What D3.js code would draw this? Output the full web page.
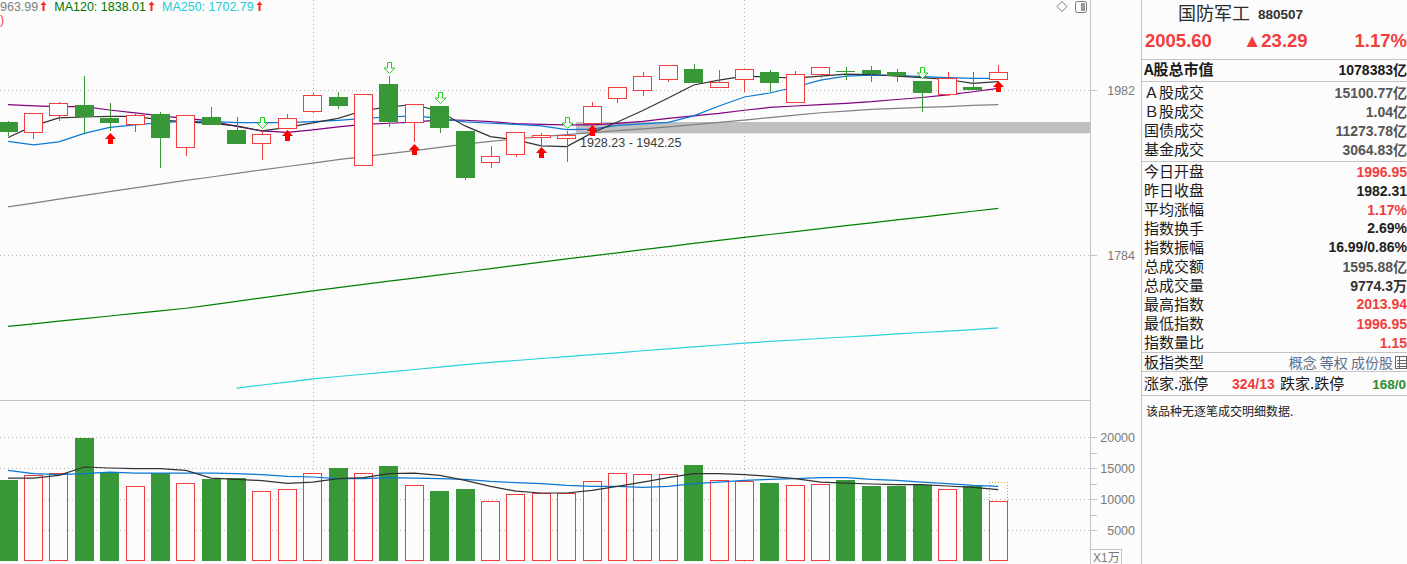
<!DOCTYPE html>
<html><head><meta charset="utf-8">
<script src="https://cdn.jsdelivr.net/npm/d3@7"></script>
<style>
html,body{margin:0;padding:0;background:#fcfcfc;overflow:hidden;}
svg{display:block;font-family:Arial,"Liberation Sans","Noto Sans CJK SC",sans-serif;}
</style></head><body><svg id="c" width="1407" height="564"></svg>
<script>
// ---------- data ----------
const days = [1,2,3,4,5,6,7,8,9,10,11,12,13,14,15,16,17,18,19,20,21,22,23,24,25,26,27,28,29,30,31,32,33,34,35,36,37,38,39,40];
const openP  = [1942.7,1929.6,1950.7,1963.5,1947.7,1939.5,1952.3,1911.3,1948.5,1932.5,1916.1,1934.5,1956.4,1973.5,1889.5,1990.0,1942.7,1962.2,1931.2,1893.8,1903.5,1923.5,1922.6,1941.5,1971.9,1982.4,1996.3,2009.1,1986.6,1995.9,2005.3,1966.9,2002.7,2006.5,2007.8,2005.3,1993.8,1976.9,1986.2,1996.95];
const highP  = [1943.6,1953.1,1967.6,2000.5,1966.4,1953.1,1955.1,1950.7,1961.4,1948.9,1931.0,1952.3,1979.0,1980.2,1976.9,2000.1,1964.4,1962.2,1931.2,1912.8,1930.4,1929.1,1931.2,1967.6,1985.8,2005.6,2013.9,2015.5,2007.8,2008.7,2007.8,2006.5,2012.1,2012.1,2013.0,2009.1,1993.8,2004.8,2004.8,2013.94];
const lowP   = [1925.1,1921.4,1943.9,1929.1,1931.2,1930.4,1885.9,1901.1,1938.5,1915.7,1895.9,1934.5,1953.1,1958.5,1889.5,1936.5,1917.7,1929.1,1871.9,1885.9,1899.9,1914.1,1893.8,1941.5,1965.6,1975.2,1992.9,1991.6,1986.6,1980.2,1980.2,1966.9,1997.2,1995.0,1992.1,1992.9,1955.1,1974.4,1982.0,1996.95];
const closeP = [1930.4,1953.1,1965.6,1948.2,1941.5,1950.7,1923.0,1950.7,1939.0,1915.7,1927.5,1946.9,1975.7,1962.6,1976.9,1942.7,1964.4,1935.3,1873.9,1900.7,1930.4,1926.3,1926.0,1962.2,1985.8,1999.8,2013.9,1991.6,1992.1,2008.7,1991.6,2002.3,2012.1,2004.8,2002.3,1999.8,1979.0,1997.2,1982.31,2005.60];
const ma5   = [1923.1,1937.4,1947.3,1948.5,1949.2,1949.2,1944.8,1942.3,1940.5,1937.4,1931.2,1935.5,1941.1,1946.7,1956.6,1961.0,1964.1,1955.4,1937.4,1924.2,1920.2,1912.8,1912.0,1928.8,1942.3,1956.6,1972.3,1988.7,1995.0,2000.1,1998.9,1997.6,2000.1,2002.7,2002.1,2000.1,1998.0,1995.7,1990.9,1992.9];
const ma10  = [1918.3,1914.1,1917.7,1928.2,1935.5,1938.6,1941.5,1943.0,1943.0,1941.5,1941.5,1941.5,1942.7,1944.2,1946.7,1948.5,1949.8,1946.7,1942.3,1940.7,1939.2,1937.4,1932.8,1933.5,1938.0,1939.9,1941.7,1949.8,1962.2,1973.5,1978.6,1986.2,1995.0,2000.1,2001.4,2001.0,1999.5,1998.2,1997.2,1997.2];
const ma20  = [1963.9,1962.4,1961.4,1961.4,1957.2,1953.5,1949.8,1946.7,1943.6,1936.8,1931.2,1929.4,1932.5,1936.2,1939.2,1940.7,1942.1,1944.8,1944.4,1942.6,1940.3,1939.2,1938.6,1938.6,1940.5,1943.0,1946.7,1949.8,1952.9,1956.9,1960.4,1962.2,1963.9,1965.6,1967.6,1970.4,1972.9,1976.1,1980.2,1984.5];
const ma60  = [1839.7,1844.2,1848.8,1853.2,1857.8,1862.2,1866.6,1871.1,1875.2,1879.5,1883.7,1887.8,1891.8,1896.1,1899.8,1903.5,1907.1,1911.1,1915.0,1918.3,1921.4,1924.3,1926.7,1929.1,1931.5,1933.8,1936.3,1939.0,1941.8,1944.6,1947.8,1950.9,1953.8,1955.8,1957.9,1959.3,1960.4,1961.4,1963.0,1963.99];
const ma120 = [1704.4,1707.2,1710.2,1712.9,1715.8,1718.6,1721.4,1724.3,1728.0,1732.0,1735.8,1739.7,1743.6,1747.2,1750.8,1754.4,1757.8,1761.5,1765.0,1768.6,1772.2,1775.9,1779.5,1783.1,1786.5,1790.1,1793.6,1797.2,1800.7,1804.2,1807.5,1810.9,1814.3,1817.7,1821.0,1824.4,1827.8,1831.2,1834.6,1838.01];
const ma250 = [null,null,null,null,null,null,null,null,null,1638.6,1641.8,1644.9,1648.2,1650.7,1653.1,1655.6,1658.1,1660.6,1663.2,1665.6,1667.7,1669.8,1671.9,1673.9,1675.9,1678.1,1680.1,1682.3,1684.3,1686.3,1688.1,1689.7,1691.3,1692.9,1694.5,1696.3,1697.8,1699.4,1701.0,1702.79];
const volume = [13060,13980,14250,19840,14400,12200,14300,12690,13280,13390,11400,11720,14300,15000,14300,15320,12370,11290,11610,9780,10910,11080,11080,13010,14300,14140,14140,15480,13170,13010,12580,12370,12530,13060,12100,12100,12370,11720,12100,9774.3];
const volMa5  = [13430,13430,13870,15210,15050,14950,14950,14680,13430,13230,13020,12580,12790,13340,13500,14150,14240,13870,13060,12100,11320,11020,11020,11450,12100,12790,13500,14150,14150,13980,13710,13340,12790,12630,12470,12370,12370,12150,11940,11560];
const volMa10 = [14680,14150,13980,14150,14400,14240,14240,14240,14240,14150,13980,13710,13600,13340,13340,13500,13430,13340,13230,12900,12690,12530,12260,12100,12100,11940,12100,12530,12790,13060,13230,13340,13500,13500,13230,13060,12790,12530,12260,12100];
const volForecast = 12850;          // projected volume of the last day
const buyDays  = [5,12,17,22,24,40];
const sellDays = [11,16,18,23,37];
const monthStarts = [13,30];
const gapBand = [1928.23, 1942.25];
const gapStartDay = 23;
const priceTicks = [1982, 1784];
const volTicks = [5000,10000,15000,20000];
const volMinorTicks = [7500,12500,17500];
const legendItems = [["963.99","#808080"],["MA120: 1838.01","#007800"],["MA250: 1702.79","#22cbd5"]];

const infoLabels = ["A股总市值","Ａ股成交","Ｂ股成交","国债成交","基金成交","今日开盘","昨日收盘","平均涨幅","指数换手","指数振幅","总成交额","总成交量","最高指数","最低指数","指数量比","板指类型"];
const infoValues = ["1078383亿","15100.77亿","1.04亿","11273.78亿","3064.83亿","1996.95","1982.31","1.17%","2.69%","16.99/0.86%","1595.88亿","9774.3万","2013.94","1996.95","1.15","概念 等权 成份股"];

// ---------- styles ----------
const RED="#f23d3d", GREEN="#389838", BG="#fcfcfc", GRID="#b8b8b8", AX="#c4c4c4";
const C_MA5="#333333", C_MA10="#0a78d4", C_MA20="#800080", C_MA60="#808080", C_MA120="#008000", C_MA250="#28d2dc";
const infoRowY = [70,92.7,111.7,131,150,171.7,190.7,210,228.3,247.3,266.7,285.7,304.3,324,342.7,362.7];
const infoColor = ["#1a1a1a","#555","#555","#555","#555",RED,"#222",RED,"#222","#222","#555","#333",RED,RED,RED,"#5d6f8a"];

const svg = d3.select("#c");
const n = days.length;
const x = d3.scaleBand().domain(days).range([-4.6, 1011.0]).padding(0);
const bw = x.bandwidth();
const cx = d => x(d) + bw/2;
const px = d => Math.round(cx(d)) + 0.5;
const bodyL = d => Math.round(cx(d) - 9.5);

const y = d3.scaleLog().domain([1784, 1982]).range([255, 90.3]);
const yv = d3.scaleLinear().domain([0, 20000]).range([561.4, 437.3]);

const defs = svg.append("defs");
defs.append("clipPath").attr("id","cm").append("rect").attr("x",0).attr("y",0).attr("width",1090).attr("height",399);
defs.append("clipPath").attr("id","cv").append("rect").attr("x",0).attr("y",401).attr("width",1090).attr("height",163);

svg.append("rect").attr("width",1407).attr("height",564).attr("fill",BG);

// ---------- main panel ----------
const gm = svg.append("g").attr("clip-path","url(#cm)");
gm.selectAll(".hg").data(priceTicks).join("line")
  .attr("x1",0).attr("x2",1090).attr("y1",d=>Math.round(y(d))+0.5).attr("y2",d=>Math.round(y(d))+0.5)
  .attr("stroke",GRID).attr("stroke-dasharray","1,3");
gm.selectAll(".vg").data(monthStarts).join("line")
  .attr("x1",d=>px(d)).attr("x2",d=>px(d)).attr("y1",0).attr("y2",399)
  .attr("stroke",GRID).attr("stroke-dasharray","1,3");
gm.append("rect").attr("x",bodyL(gapStartDay)+19).attr("width",1090-(bodyL(gapStartDay)+19))
  .attr("y",y(gapBand[1])).attr("height",y(gapBand[0])-y(gapBand[1])).attr("fill","#c0c0c0");
gm.append("text").attr("x",bodyL(gapStartDay)+23).attr("y",y(gapBand[0])+13.5)
  .attr("font-size",12.5).attr("fill","#3a3a3a").text(gapBand[0].toFixed(2)+" - "+gapBand[1].toFixed(2));

const mkLine = (arr, ys) => d3.line().defined(i=>arr[i]!=null).x(i=>cx(days[i])).y(i=>ys(arr[i]));
const idx = d3.range(n);
[[ma250,C_MA250],[ma120,C_MA120],[ma60,C_MA60],[ma20,C_MA20],[ma10,C_MA10],[ma5,C_MA5]].forEach(([a,c])=>{
  gm.append("path").attr("d",mkLine(a,y)(idx)).attr("fill","none").attr("stroke",c).attr("stroke-width",1.2);
});

const cg = gm.append("g").attr("shape-rendering","crispEdges");
idx.forEach(i=>{
  const d=days[i], o=openP[i], c=closeP[i], h=highP[i], l=lowP[i];
  const up = c>=o;
  const col = up?RED:GREEN;
  const top = y(Math.max(o,c)), bot = y(Math.min(o,c));
  if(up){
    cg.append("line").attr("x1",px(d)).attr("x2",px(d)).attr("y1",y(h)).attr("y2",top).attr("stroke",col);
    cg.append("line").attr("x1",px(d)).attr("x2",px(d)).attr("y1",bot).attr("y2",y(l)).attr("stroke",col);
    cg.append("rect").attr("x",bodyL(d)+0.5).attr("width",18).attr("y",Math.round(top)+0.5)
      .attr("height",Math.max(1,Math.round(bot)-Math.round(top))).attr("fill",BG).attr("stroke",col);
  } else {
    cg.append("line").attr("x1",px(d)).attr("x2",px(d)).attr("y1",y(h)).attr("y2",y(l)).attr("stroke",col);
    cg.append("rect").attr("x",bodyL(d)).attr("width",19).attr("y",Math.round(top))
      .attr("height",Math.max(1,Math.round(bot)-Math.round(top))).attr("fill",col);
  }
});

buyDays.forEach(d=>{
  const i=days.indexOf(d), c=Math.round(cx(d))+0.5, t=Math.round(y(lowP[i]))+2;
  gm.append("path").attr("d",`M${c},${t} L${c+5.5},${t+6} L${c+2.5},${t+6} L${c+2.5},${t+11} L${c-2.5},${t+11} L${c-2.5},${t+6} L${c-5.5},${t+6} Z`)
    .attr("fill","#ff0000");
});
sellDays.forEach(d=>{
  const i=days.indexOf(d), c=Math.round(cx(d))+0.5, b=Math.round(y(highP[i]))-2.5;
  gm.append("path").attr("d",`M${c},${b} L${c+5.5},${b-5.5} L${c+2},${b-5.5} L${c+2},${b-11} L${c-2},${b-11} L${c-2},${b-5.5} L${c-5.5},${b-5.5} Z`)
    .attr("fill",BG).attr("stroke","#22d022").attr("stroke-width",1);
});

// legend (visible part), laid out by measured text widths
const arrowUp = (g,xx)=>{ g.append("path").attr("d",`M${xx},1.5 L${xx+3},5 L${xx+1},5 L${xx+1},11 L${xx-1},11 L${xx-1},5 L${xx-3},5 Z`).attr("fill","#ff2020"); };
const lg = svg.append("g").attr("font-size",12.5);
let lx = 0;
legendItems.forEach(([t,c])=>{
  const tx = lg.append("text").attr("x",lx).attr("y",11).attr("fill",c).text(t);
  const w = tx.node().getComputedTextLength();
  arrowUp(lg, Math.round(lx + w + 5) + 0.5);
  lx = lx + w + 16;
});
lg.append("text").attr("x",0).attr("y",24).attr("fill","#ff4040").text(")");

svg.append("path").attr("d","M1062,1.5 L1067,6.5 L1062,11.5 L1057,6.5 Z").attr("fill","none").attr("stroke","#777");
svg.append("rect").attr("x",1075.5).attr("y",1.5).attr("width",11).attr("height",11).attr("rx",2).attr("fill","none").attr("stroke","#777");
svg.append("rect").attr("x",1081).attr("y",3).attr("width",4).attr("height",8).attr("fill","#999");

// ---------- volume panel ----------
const gv = svg.append("g").attr("clip-path","url(#cv)");
gv.selectAll(".vh").data(volTicks).join("line")
  .attr("x1",0).attr("x2",1090).attr("y1",d=>Math.round(yv(d))+0.5).attr("y2",d=>Math.round(yv(d))+0.5)
  .attr("stroke",GRID).attr("stroke-dasharray","1,3");
gv.selectAll(".vv").data(monthStarts).join("line")
  .attr("x1",d=>px(d)).attr("x2",d=>px(d)).attr("y1",401).attr("y2",564)
  .attr("stroke",GRID).attr("stroke-dasharray","1,3");
const vb = gv.append("g").attr("shape-rendering","crispEdges");
idx.forEach(i=>{
  const d=days[i], up=closeP[i]>=openP[i], t=Math.round(yv(volume[i])), b=Math.round(yv(0));
  if(up) vb.append("rect").attr("x",bodyL(d)+0.5).attr("width",18).attr("y",t+0.5).attr("height",b-t-1).attr("fill",BG).attr("stroke",RED);
  else vb.append("rect").attr("x",bodyL(d)).attr("width",19).attr("y",t).attr("height",b-t).attr("fill",GREEN);
});
{
  const d=days[n-1], l=bodyL(d)+0.5, r=l+18, t=Math.round(yv(volForecast))+0.5, b=Math.round(yv(volume[n-1]));
  vb.append("path").attr("d",`M${l},${b} L${l},${t} L${r},${t} L${r},${b}`).attr("fill","none")
    .attr("stroke","#b0b000").attr("stroke-dasharray","1,2");
}
gv.append("path").attr("d",mkLine(volMa10,yv)(idx)).attr("fill","none").attr("stroke",C_MA10).attr("stroke-width",1.2);
gv.append("path").attr("d",mkLine(volMa5,yv)(idx)).attr("fill","none").attr("stroke",C_MA5).attr("stroke-width",1.2);

// ---------- axes ----------
const ax = svg.append("g").attr("shape-rendering","crispEdges");
ax.append("line").attr("x1",1090.5).attr("x2",1090.5).attr("y1",0).attr("y2",564).attr("stroke",AX);
ax.append("line").attr("x1",0).attr("x2",1090).attr("y1",400.5).attr("y2",400.5).attr("stroke",AX);
ax.selectAll(".pt").data(priceTicks).join("line")
  .attr("x1",1090).attr("x2",1097).attr("y1",d=>Math.round(y(d))+0.5).attr("y2",d=>Math.round(y(d))+0.5).attr("stroke",AX);
svg.selectAll(".ptl").data(priceTicks).join("text")
  .attr("x",1135).attr("y",d=>y(d)+4.5).attr("text-anchor","end").attr("font-size",12.5).attr("fill","#7a7a7a")
  .text(d=>d3.format("d")(d));
ax.selectAll(".vt").data(volTicks.concat(volMinorTicks)).join("line")
  .attr("x1",1090).attr("x2",1097).attr("y1",d=>Math.round(yv(d))+0.5).attr("y2",d=>Math.round(yv(d))+0.5).attr("stroke",AX);
svg.selectAll(".vtl").data(volTicks).join("text")
  .attr("x",1135).attr("y",d=>yv(d)+4.5).attr("text-anchor","end").attr("font-size",12.5).attr("fill","#7a7a7a")
  .text(d=>d);
ax.append("rect").attr("x",1090.5).attr("y",549.5).attr("width",31).attr("height",16).attr("fill",BG).attr("stroke",AX);
svg.append("text").attr("x",1093).attr("y",562).attr("font-size",12).attr("fill","#7a7a7a").text("X1万");

// ---------- right info panel ----------
const rp = svg.append("g");
rp.append("line").attr("x1",1141.5).attr("x2",1141.5).attr("y1",0).attr("y2",564).attr("stroke",AX).attr("shape-rendering","crispEdges");
[59.5,81.5,161.5,352.5,371.5,395.5].forEach(yy=>{
  rp.append("line").attr("x1",1141).attr("x2",1407).attr("y1",yy).attr("y2",yy).attr("stroke",AX).attr("shape-rendering","crispEdges");
});
rp.append("text").attr("x",1178).attr("y",19.5).attr("font-size",18).attr("fill","#2b2b2b")
  .attr("font-family","'Noto Sans CJK SC',sans-serif").text("国防军工");
rp.append("text").attr("x",1258).attr("y",18.5).attr("font-size",13.5).attr("font-weight","bold").attr("fill","#333").text("880507");
rp.append("text").attr("x",1145).attr("y",47).attr("font-size",18.5).attr("font-weight","bold").attr("fill",RED).text("2005.60");
rp.append("text").attr("x",1243).attr("y",47).attr("font-size",18.5).attr("font-weight","bold").attr("fill",RED).text("▲23.29");
rp.append("text").attr("x",1407).attr("y",47).attr("text-anchor","end").attr("font-size",18.5).attr("font-weight","bold").attr("fill",RED).text("1.17%");

infoLabels.forEach((lab,i)=>{
  rp.append("text").attr("x",1144).attr("y",infoRowY[i]+5.3).attr("font-size",15)
    .attr("font-family","'Noto Sans CJK SC',sans-serif").attr("font-weight",i===0?"bold":"normal")
    .attr("fill","#1a1a1a").text(lab);
  const last = i===infoLabels.length-1;
  rp.append("text").attr("x",last?1393:1407).attr("y",infoRowY[i]+5).attr("text-anchor","end")
    .attr("font-size",14).attr("font-weight",last?"normal":"bold")
    .attr("font-family",last?"'Noto Sans CJK SC',sans-serif":null)
    .attr("fill",infoColor[i]).text(infoValues[i]);
});
rp.append("rect").attr("x",1395.5).attr("y",356.5).attr("width",11).attr("height",12).attr("fill","none").attr("stroke","#666");
[360.5,363.5,366.5].forEach(yy=>rp.append("line").attr("x1",1397).attr("x2",1406).attr("y1",yy).attr("y2",yy).attr("stroke","#666"));
rp.append("line").attr("x1",1399.5).attr("x2",1399.5).attr("y1",357).attr("y2",368).attr("stroke","#666");

rp.append("text").attr("x",1144).attr("y",388.6).attr("font-size",15).attr("font-family","'Noto Sans CJK SC',sans-serif").attr("fill","#1a1a1a").text("涨家.涨停");
rp.append("text").attr("x",1232).attr("y",388.5).attr("font-size",14).attr("font-weight","bold").attr("fill",RED).text("324/13");
rp.append("text").attr("x",1280).attr("y",388.6).attr("font-size",15).attr("font-family","'Noto Sans CJK SC',sans-serif").attr("fill","#1a1a1a").text("跌家.跌停");
rp.append("text").attr("x",1406).attr("y",388.5).attr("text-anchor","end").attr("font-size",13.5).attr("font-weight","bold").attr("fill","#2e8b2e").text("168/0");
rp.append("text").attr("x",1146).attr("y",416).attr("font-size",12).attr("font-family","'Noto Sans CJK SC',sans-serif").attr("fill","#222").text("该品种无逐笔成交明细数据.");
</script></body></html>
